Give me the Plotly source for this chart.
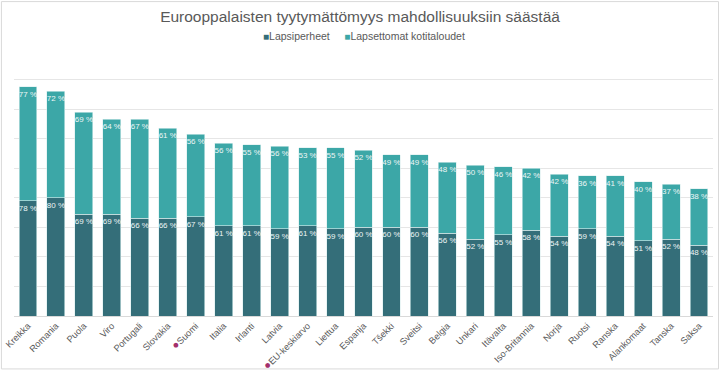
import plotly.graph_objects as go

categories = ["Kreikka", "Romania", "Puola", "Viro", "Portugali", "Slovakia", "Suomi", "Italia",
              "Irlanti", "Latvia", "EU-keskiarvo", "Liettua", "Espanja", "Tšekki", "Sveitsi",
              "Belgia", "Unkari", "Itävalta", "Iso-Britannia", "Norja", "Ruotsi", "Ranska",
              "Alankomaat", "Tanska", "Saksa"]
lapsiperheet = [78, 80, 69, 69, 66, 66, 67, 61, 61, 59, 61, 59, 60, 60, 60, 56, 52, 55, 58, 54, 59, 54, 51, 52, 48]
lapsettomat = [77, 72, 69, 64, 67, 61, 56, 56, 55, 56, 53, 55, 52, 49, 49, 48, 50, 46, 42, 42, 36, 41, 40, 37, 38]
series_names = ["Lapsiperheet", "Lapsettomat kotitaloudet"]
highlighted = ["Suomi", "EU-keskiarvo"]

dark = "#346e79"
light = "#3ca7a7"
grey = "#595959"

ticktext = [("<span style='color:#a3306b;font-size:11px'>●</span>" + c) if c in highlighted else c
            for c in categories]

fig = go.Figure()
for vals, name, col in [(lapsiperheet, series_names[0], dark), (lapsettomat, series_names[1], light)]:
    fig.add_trace(go.Bar(
        x=categories, y=vals, name=name, showlegend=False,
        marker=dict(color=col, line=dict(color="#dbeeee", width=0.6)),
        text=[f"{v} %" for v in vals], textposition="inside", insidetextanchor="end",
        textangle=0, constraintext="none",
        textfont=dict(size=8, color="#eef6f6", family="Liberation Sans, Arial"),
    ))

legend_text = (f"<span style='color:{dark};font-size:10px'>■</span>{series_names[0]}"
               f"&nbsp;&nbsp;&nbsp;&nbsp;&nbsp;"
               f"<span style='color:{light};font-size:10px'>■</span>{series_names[1]}")

fig.update_layout(
    barmode="stack",
    bargap=0.36,
    width=720, height=371,
    margin=dict(l=14, r=7, t=50, b=55, autoexpand=False),
    paper_bgcolor="white", plot_bgcolor="white",
    font=dict(family="Liberation Sans, Arial", color=grey),
    title=dict(text="Eurooppalaisten tyytymättömyys mahdollisuuksiin säästää",
               x=0.5, xanchor="center", y=0.955, yanchor="middle",
               font=dict(size=15.5, color=grey)),
    showlegend=False,
    annotations=[dict(text=legend_text, xref="paper", yref="paper", x=0.5, y=1.052,
                      xanchor="center", yanchor="middle", showarrow=False,
                      font=dict(size=10.5, color=grey))],
    shapes=[dict(type="rect", xref="paper", yref="paper",
                 x0=-0.018, x1=1.0079, y0=-0.199, y1=1.182,
                 line=dict(color="#d9d9d9", width=1), fillcolor="rgba(0,0,0,0)", layer="below")],
)
fig.update_xaxes(tickvals=categories, ticktext=ticktext, tickangle=-45, automargin=False,
                 tickfont=dict(size=9.2, color=grey), showline=True, linecolor="#d9d9d9",
                 ticks="", showgrid=False)
fig.update_yaxes(range=[0, 180], dtick=20, showticklabels=False, showgrid=True, automargin=False,
                 gridcolor="#e6e6e6", gridwidth=1, zeroline=False, fixedrange=True)

fig.write_html("out.html", config={"displayModeBar": False},
               post_script="document.body.style.margin='0px';")
